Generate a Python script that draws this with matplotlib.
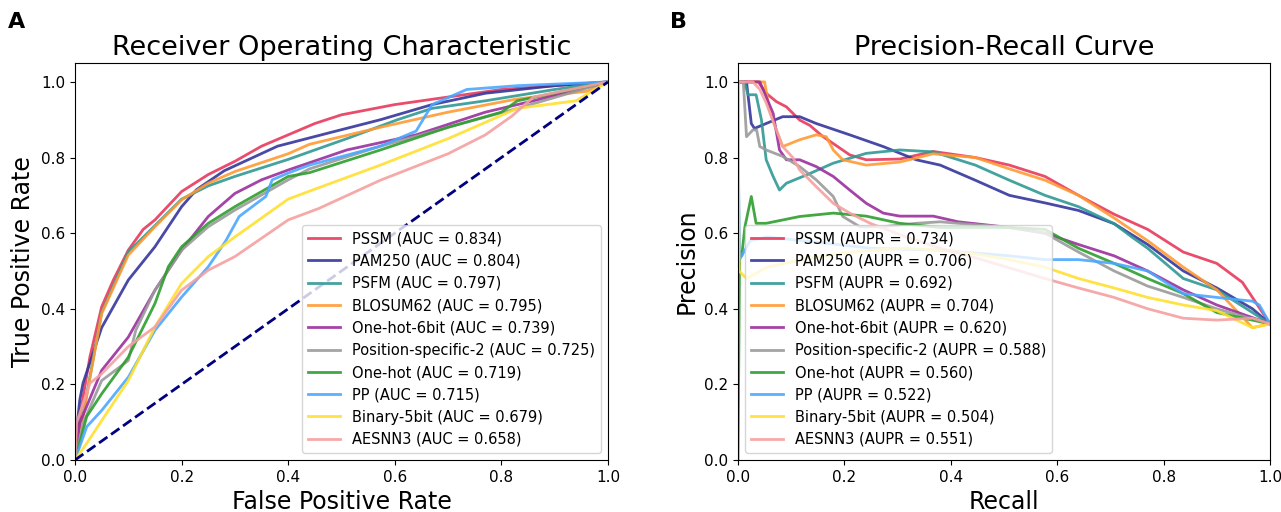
import matplotlib
matplotlib.use("Agg")
import matplotlib.pyplot as plt

names = ["PSSM", "PAM250", "PSFM", "BLOSUM62", "One-hot-6bit",
         "Position-specific-2", "One-hot", "PP", "Binary-5bit", "AESNN3"]
auc = [0.834, 0.804, 0.797, 0.795, 0.739, 0.725, 0.719, 0.715, 0.679, 0.658]
aupr = [0.734, 0.706, 0.692, 0.704, 0.620, 0.588, 0.560, 0.522, 0.504, 0.551]
colors = ["#e8395c", "#35359c", "#2f9995", "#ff9a33", "#9a2f9e",
          "#9a9a9a", "#2e9e2e", "#4aa8ff", "#ffdf2e", "#f5a0a0"]

# ROC curves (fpr, tpr)
roc_fpr = {
    "PSSM": [0, 0, .009, .028, .05, .072, .1, .128, .15, .2, .25, .3, .35, .4, .45, .5, .6, .7, .8, .9, 1.0],
    "PAM250": [0, 0, .009, .015, .05, .1, .15, .2, .228, .28, .38, .476, .573, .67, .77, .9, 1.0],
    "PSFM": [0, 0, .015, .05, .1, .15, .2, .25, .3, .4, .44, .51, .605, .67, .77, .9, 1.0],
    "BLOSUM62": [0, 0, .015, .05, .1, .15, .2, .25, .3, .4, .44, .573, .70, .83, .96, 1.0],
    "One-hot-6bit": [0, .009, .05, .1, .15, .2, .25, .3, .35, .4, .51, .64, .77, .86, 1.0],
    "Position-specific-2": [0, .016, .05, .1, .114, .15, .2, .25, .3, .4, .44, .573, .70, .83, 1.0],
    "One-hot": [0, .022, .05, .1, .15, .175, .2, .25, .3, .4, .44, .573, .70, .80, .83, 1.0],
    "PP": [0, .022, .05, .1, .15, .2, .25, .283, .308, .358, .37, .4, .44, .573, .64, .67, .735, .83, 1.0],
    "Binary-5bit": [0, .022, .05, .1, .15, .2, .25, .3, .4, .457, .573, .70, .83, .94, 1.0],
    "AESNN3": [0, .003, .028, .05, .1, .15, .2, .25, .3, .4, .457, .573, .70, .77, .82, .86, 1.0],
}
roc_tpr = {
    "PSSM": [0, .06, .115, .273, .405, .476, .555, .61, .635, .71, .755, .79, .83, .86, .89, .913, .94, .96, .98, .99, 1.0],
    "PAM250": [0, .04, .159, .203, .35, .476, .564, .67, .715, .765, .83, .865, .90, .94, .97, .99, 1.0],
    "PSFM": [0, .05, .12, .39, .55, .62, .69, .725, .75, .795, .815, .85, .90, .93, .95, .98, 1.0],
    "BLOSUM62": [0, .04, .115, .387, .542, .617, .688, .732, .763, .81, .835, .88, .92, .955, .975, 1.0],
    "One-hot-6bit": [0, .098, .237, .325, .449, .555, .644, .705, .741, .767, .82, .86, .92, .95, 1.0],
    "Position-specific-2": [0, .10, .21, .263, .343, .449, .555, .617, .661, .741, .77, .83, .88, .93, 1.0],
    "One-hot": [0, .115, .175, .272, .414, .511, .564, .626, .67, .75, .76, .82, .88, .92, .95, 1.0],
    "PP": [0, .088, .131, .219, .343, .431, .511, .58, .644, .697, .741, .759, .78, .83, .87, .94, .98, .99, 1.0],
    "Binary-5bit": [0, .044, .104, .21, .352, .467, .538, .59, .69, .72, .78, .85, .93, .95, 1.0],
    "AESNN3": [0, .098, .203, .228, .30, .352, .449, .502, .538, .635, .665, .74, .81, .86, .91, .96, 1.0],
}

# PR curves (recall, precision)
pr_rec = {
    "PSSM": [0, .038, .053, .072, .091, .116, .135, .16, .179, .21, .241, .304, .367, .446, .51, .577, .64, .707, .77, .837, .90, .948, .967, 1.0],
    "PAM250": [0, .016, .025, .031, .053, .084, .116, .147, .21, .273, .335, .38, .446, .51, .577, .64, .707, .77, .837, .90, .967, 1.0],
    "PSFM": [0, .012, .019, .034, .044, .053, .066, .078, .091, .129, .179, .241, .304, .367, .446, .51, .577, .64, .707, .74, .77, .837, .90, .967, 1.0],
    "BLOSUM62": [0, .05, .059, .072, .084, .116, .147, .166, .179, .197, .241, .304, .367, .446, .51, .577, .64, .707, .77, .837, .90, .967, 1.0],
    "One-hot-6bit": [0, .041, .066, .078, .091, .116, .147, .179, .21, .241, .273, .304, .367, .414, .51, .577, .64, .707, .77, .837, .90, 1.0],
    "Position-specific-2": [0, .01, .016, .028, .035, .041, .053, .084, .116, .147, .179, .197, .229, .273, .335, .38, .51, .577, .64, .707, .77, .837, .90, 1.0],
    "One-hot": [0, .003, .007, .013, .025, .034, .053, .116, .179, .241, .304, .38, .51, .577, .64, .707, .77, .837, .90, 1.0],
    "PP": [0, .001, .003, .023, .055, .12, .186, .25, .38, .51, .577, .64, .707, .77, .837, .90, .967, .98, 1.0],
    "Binary-5bit": [0, .002, .016, .055, .12, .186, .25, .316, .38, .446, .51, .577, .64, .707, .77, .837, .90, .967, 1.0],
    "AESNN3": [0, .028, .041, .053, .084, .103, .116, .147, .179, .21, .25, .316, .38, .446, .577, .64, .707, .77, .837, .90, .967, 1.0],
}
pr_prec = {
    "PSSM": [1, 1, .97, .948, .934, .899, .885, .855, .837, .807, .794, .796, .816, .80, .78, .75, .70, .65, .61, .55, .52, .47, .43, .36],
    "PAM250": [1, 1, .89, .877, .89, .908, .908, .89, .86, .829, .794, .78, .74, .70, .68, .66, .625, .57, .50, .455, .40, .36],
    "PSFM": [1, 1, .966, .966, .90, .794, .75, .714, .732, .754, .785, .811, .82, .815, .78, .74, .70, .67, .625, .59, .56, .48, .45, .39, .36],
    "BLOSUM62": [1, 1, .926, .873, .829, .847, .86, .855, .82, .794, .78, .788, .81, .80, .77, .74, .70, .64, .58, .51, .45, .35, .36],
    "One-hot-6bit": [1, 1, .917, .82, .794, .794, .776, .75, .714, .679, .653, .645, .645, .63, .615, .60, .57, .54, .50, .45, .41, .36],
    "Position-specific-2": [1, 1, .855, .873, .873, .829, .82, .803, .776, .741, .697, .644, .617, .617, .626, .63, .615, .60, .55, .50, .46, .43, .40, .36],
    "One-hot": [0, .55, .54, .617, .697, .626, .626, .644, .653, .645, .626, .615, .615, .61, .56, .52, .48, .44, .39, .36],
    "PP": [1.0, .75, .53, .58, .59, .58, .57, .56, .555, .54, .53, .53, .52, .50, .44, .43, .42, .41, .36],
    "Binary-5bit": [1.0, .50, .48, .51, .53, .545, .555, .56, .555, .545, .53, .51, .48, .455, .43, .41, .395, .35, .36],
    "AESNN3": [1, 1, .98, .944, .829, .80, .767, .723, .679, .653, .625, .59, .56, .535, .48, .455, .43, .40, .375, .37, .375, .36],
}

plt.rcParams['font.family'] = ['DejaVu Sans']
fig = plt.figure(figsize=(12.81, 5.12), dpi=100)
ax1 = fig.add_axes([75/1281, 52/512, 533/1281, 397/512])
ax2 = fig.add_axes([738/1281, 52/512, 532/1281, 397/512])

for n, a, c in zip(names, auc, colors):
    ax1.plot(roc_fpr[n], roc_tpr[n], color=c, lw=2, alpha=0.9,
             label=f"{n} (AUC = {a:.3f})")
ax1.plot([0, 1], [0, 1], color="navy", lw=2, linestyle="--")
ax1.set_xlim(0, 1.0)
ax1.set_ylim(0, 1.05)
ax1.set_xlabel("False Positive Rate", fontsize=17)
ax1.set_ylabel("True Positive Rate", fontsize=17)
ax1.set_title("Receiver Operating Characteristic", fontsize=19.5)
ax1.tick_params(labelsize=11)
ax1.legend(loc="lower right", fontsize=10.5, handlelength=2.2)

for n, a, c in zip(names, aupr, colors):
    ax2.plot(pr_rec[n], pr_prec[n], color=c, lw=2, alpha=0.9,
             label=f"{n} (AUPR = {a:.3f})")
ax2.set_xlim(0, 1.0)
ax2.set_ylim(0, 1.05)
ax2.set_xlabel("Recall", fontsize=17)
ax2.set_ylabel("Precision", fontsize=17)
ax2.set_title("Precision-Recall Curve", fontsize=19.5)
ax2.tick_params(labelsize=11)
ax2.legend(loc="lower left", fontsize=10.5, handlelength=2.2)

fig.text(8/1281, 1 - 22/512, "A", fontsize=16, fontweight="bold", va="center", ha="left")
fig.text(670/1281, 1 - 22/512, "B", fontsize=16, fontweight="bold", va="center", ha="left")

fig.savefig("out.png", dpi=100)
